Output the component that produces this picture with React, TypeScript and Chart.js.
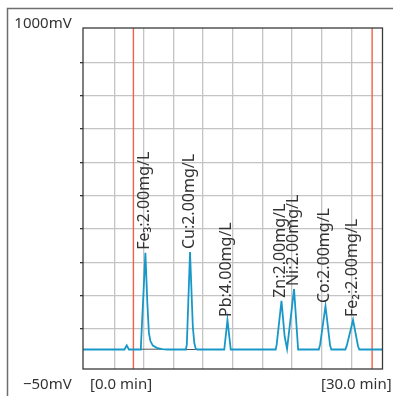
import React, { useEffect, useRef } from "react";
import { Chart, registerables } from "chart.js";

Chart.register(...registerables);

// Chromatogram signal (time in min, response in mV)
const SIGNAL_T = [
  0.0, 4.15, 4.38, 4.6, 5.72, 5.8, 6.25, 6.45, 6.6, 6.75, 7.0, 7.4, 7.9, 8.5,
  10.3, 10.4, 10.72, 11.0, 11.15, 11.3, 11.45,
  14.15, 14.47, 14.8,
  19.3, 19.4, 19.88, 20.2, 20.44, 21.14, 21.55,
  23.62, 23.75, 24.29, 24.75, 24.88,
  26.28, 26.42, 27.05, 27.55, 27.68,
  30.0,
];
const SIGNAL_MV = [
  10, 10, 23, 10, 10, 20, 308, 150, 62, 36, 22, 15, 11, 10,
  10, 25, 310, 80, 30, 12, 10,
  10, 101, 10,
  10, 25, 160, 50, 12, 196, 10,
  10, 25, 144, 22, 10,
  10, 22, 101, 20, 10,
  10,
];

// Peak annotations
const PEAK_LABELS = [
  "Fe\u2083:2.00mg/L",
  "Cu:2.00mg/L",
  "Pb:4.00mg/L",
  "Zn:2.00mg/L",
  "Ni:2.00mg/L",
  "Co:2.00mg/L",
  "Fe\u2082:2.00mg/L",
];
const PEAK_T = [6.25, 10.72, 14.47, 19.88, 21.14, 24.29, 27.05];
const PEAK_MV = [308, 310, 101, 160, 196, 144, 101];

// Integration baselines under the first two peaks
const INTEG_T = [5.75, 8.0, null, 10.3, 11.45];
const INTEG_MV = [11, 11, null, 10, 10];

// Red window markers (min)
const MARKER_T = [5.05, 28.96];

// Axis ranges and grid positions
const X_MIN = 0;
const X_MAX = 30;
const Y_MIN = -50;
const Y_MAX = 1000;
const X_GRID = [3.15, 6.08, 9.06, 12.02, 15.0, 17.98, 20.94, 23.92, 26.89];
const Y_GRID = [73, 175, 278, 381, 483, 586, 689, 792, 894];

const Y_TOP_LABEL = "1000mV";
const Y_BOTTOM_LABEL = "\u221250mV";
const X_START_LABEL = "[0.0 min]";
const X_END_LABEL = "[30.0 min]";

const overlay = {
  id: "overlay",
  beforeDraw(chart: any) {
    const ctx = chart.ctx;
    ctx.save();
    ctx.fillStyle = "#ffffff";
    ctx.fillRect(0, 0, chart.width, chart.height);
    ctx.strokeStyle = "#6e6e6e";
    ctx.lineWidth = 1.5;
    ctx.beginPath();
    ctx.moveTo(7.5, chart.height);
    ctx.lineTo(7.5, 8.5);
    ctx.lineTo(chart.width, 8.5);
    ctx.stroke();
    ctx.restore();
  },
  afterDraw(chart: any) {
    const ctx = chart.ctx;
    const a = chart.chartArea;
    const xs = chart.scales.x;
    const ys = chart.scales.y;
    ctx.save();
    ctx.strokeStyle = "#3a3a3a";
    ctx.lineWidth = 1.3;
    ctx.strokeRect(a.left, a.top, a.right - a.left, a.bottom - a.top);

    ctx.fillStyle = "#333333";
    ctx.font = '16px "Noto Sans"';
    ctx.textAlign = "left";
    ctx.textBaseline = "alphabetic";
    PEAK_LABELS.forEach((label, i) => {
      const px = xs.getPixelForValue(PEAK_T[i]);
      const py = ys.getPixelForValue(PEAK_MV[i]) - 3;
      ctx.save();
      ctx.translate(px, py);
      ctx.rotate(-Math.PI / 2);
      ctx.fillText(label, 0, 4);
      ctx.restore();
    });

    ctx.font = '15px "Noto Sans"';
    ctx.fillStyle = "#333333";
    ctx.textAlign = "right";
    ctx.fillText(Y_TOP_LABEL, 71.7, 28);
    ctx.fillText(Y_BOTTOM_LABEL, 71.7, 388.5);
    ctx.textAlign = "left";
    ctx.fillText(X_START_LABEL, 90, 388.5);
    ctx.textAlign = "right";
    ctx.fillText(X_END_LABEL, 391.7, 388.5);
    ctx.restore();
  },
};

export default function App() {
  const ref = useRef<HTMLCanvasElement>(null);

  useEffect(() => {
    const signal = SIGNAL_T.map((t, i) => ({ x: t, y: SIGNAL_MV[i] }));
    const integ = INTEG_T.map((t, i) => ({ x: t === null ? 0 : t, y: INTEG_MV[i] }));
    const markers: any[] = [];
    MARKER_T.forEach((t, i) => {
      if (i > 0) markers.push({ x: (MARKER_T[i - 1] + t) / 2, y: null });
      markers.push({ x: t, y: Y_MIN });
      markers.push({ x: t, y: Y_MAX });
    });

    const chart = new Chart(ref.current as HTMLCanvasElement, {
      type: "line",
      data: {
        datasets: [
          {
            label: "signal",
            data: signal,
            borderColor: "#1898c8",
            borderWidth: 1.8,
            pointRadius: 0,
            tension: 0,
            fill: false,
          },
          {
            label: "window",
            data: markers,
            borderColor: "#ef6149",
            borderWidth: 1.4,
            pointRadius: 0,
            spanGaps: false,
            fill: false,
          },
          {
            label: "integration",
            data: integ,
            borderColor: "#555555",
            borderWidth: 1,
            pointRadius: 0,
            spanGaps: false,
            fill: false,
          },
        ] as any,
      },
      options: {
        animation: false,
        responsive: true,
        maintainAspectRatio: false,
        layout: { padding: { left: 80, top: 28, right: 10.5, bottom: 27 } },
        plugins: { legend: { display: false }, tooltip: { enabled: false } },
        events: [],
        scales: {
          x: {
            type: "linear",
            min: X_MIN,
            max: X_MAX,
            afterBuildTicks: (s: any) => {
              s.ticks = X_GRID.map((v) => ({ value: v }));
            },
            ticks: { display: false },
            border: { display: false },
            grid: { color: "#c4c4c4", lineWidth: 1.3, drawTicks: false },
          },
          y: {
            type: "linear",
            min: Y_MIN,
            max: Y_MAX,
            afterBuildTicks: (s: any) => {
              s.ticks = Y_GRID.map((v) => ({ value: v }));
            },
            ticks: { display: false },
            border: { display: false },
            grid: {
              color: "#c4c4c4",
              lineWidth: 1.3,
              drawTicks: true,
              tickLength: 3,
              tickColor: "#333333",
            },
          },
        },
      } as any,
      plugins: [overlay],
    });
    return () => chart.destroy();
  }, []);

  return (
    <div
      style={{
        position: "fixed",
        left: 0,
        top: 0,
        width: 393,
        height: 396,
        background: "#ffffff",
      }}
    >
      <canvas ref={ref} />
    </div>
  );
}
